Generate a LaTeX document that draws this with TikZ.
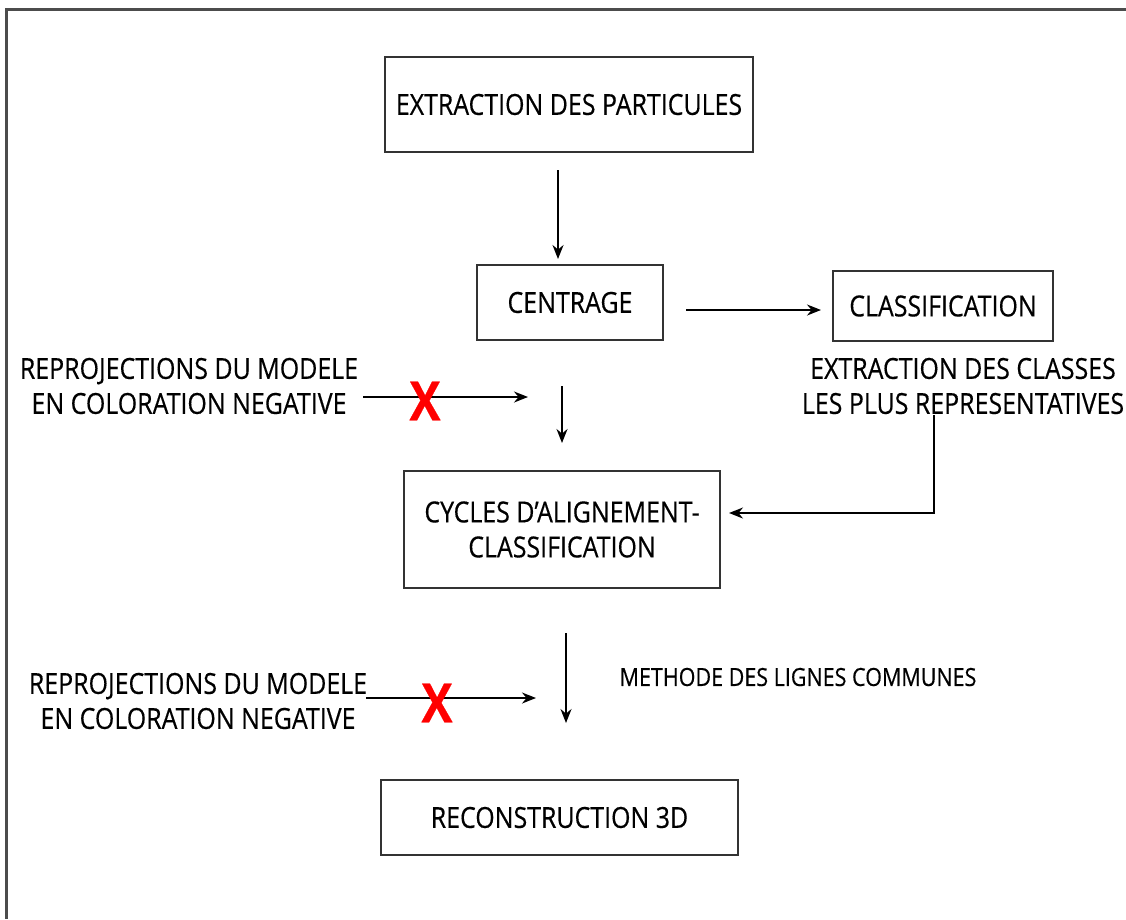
\documentclass[tikz,border=0pt]{standalone}
\usepackage{fontspec}
\setmainfont[FakeStretch=0.86, FakeBold=0.4]{Open Sans}
\usetikzlibrary{arrows.meta}
\tikzset{
  box/.style={draw=black!80, line width=2pt, rectangle, inner sep=0pt, align=center, font=\fontsize{29}{35}\selectfont},
  lbl/.style={align=center, inner sep=0pt, font=\fontsize{29}{35}\selectfont},
  small/.style={align=center, inner sep=0pt, font=\fontsize{25}{30}\selectfont},
  arr/.style={line width=1.6pt, -{Stealth[length=14pt, width=11pt]}},
  cross/.style={text=red, inner sep=0pt, font=\fontsize{54}{54}\selectfont\bfseries},
}
\begin{document}
\begin{tikzpicture}[x=1pt, y=-1pt]
\useasboundingbox (0,0) rectangle (1126,919);
\fill[white] (0,0) rectangle (1126,919);
% frame
\draw[line width=3pt, black!70] (1126,9) -- (6,9) -- (6,919);
% boxes
\node[box, minimum width=368pt, minimum height=95pt] (b1) at (569,104.5) {EXTRACTION DES PARTICULES};
\node[box, minimum width=186pt, minimum height=75pt] (b2) at (570,302.5) {CENTRAGE};
\node[box, minimum width=220pt, minimum height=70pt] (b3) at (943,306) {CLASSIFICATION};
\node[box, minimum width=316pt, minimum height=117pt] (b4) at (562,529.5) {CYCLES D'ALIGNEMENT-\\CLASSIFICATION};
\node[box, minimum width=357pt, minimum height=75pt] (b5) at (559.5,817.5) {RECONSTRUCTION 3D};
% labels
\node[lbl] (cls) at (963,386) {EXTRACTION DES CLASSES\\LES PLUS REPRESENTATIVES};
\node[lbl] (rep1) at (189,386) {REPROJECTIONS DU MODELE\\EN COLORATION NEGATIVE};
\node[lbl] (rep2) at (198,701) {REPROJECTIONS DU MODELE\\EN COLORATION NEGATIVE};
\node[small] (meth) at (798,677) {METHODE DES LIGNES COMMUNES};
% coordinates
\coordinate (a1s) at (558,170); \coordinate (a1e) at (558,259);
\coordinate (a2s) at (686,310); \coordinate (a2e) at (821,310);
\coordinate (a3s) at (934,415); \coordinate (a3c) at (934,513); \coordinate (a3e) at (729,513);
\coordinate (a4s) at (363,397); \coordinate (a4e) at (528,397);
\coordinate (a5s) at (562,386); \coordinate (a5e) at (562,443);
\coordinate (a6s) at (566,633); \coordinate (a6e) at (566,723);
\coordinate (a7s) at (366,698); \coordinate (a7e) at (536,698);
\draw[arr] (a1s) -- (a1e);
\draw[arr] (a2s) -- (a2e);
\draw[arr] (a3s) -- (a3c) -- (a3e);
\draw[arr] (a4s) -- (a4e);
\draw[arr] (a5s) -- (a5e);
\draw[arr] (a6s) -- (a6e);
\draw[arr] (a7s) -- (a7e);
\node[cross] (x1) at (425,401) {X};
\node[cross] (x2) at (437,703) {X};
\end{tikzpicture}
\end{document}
